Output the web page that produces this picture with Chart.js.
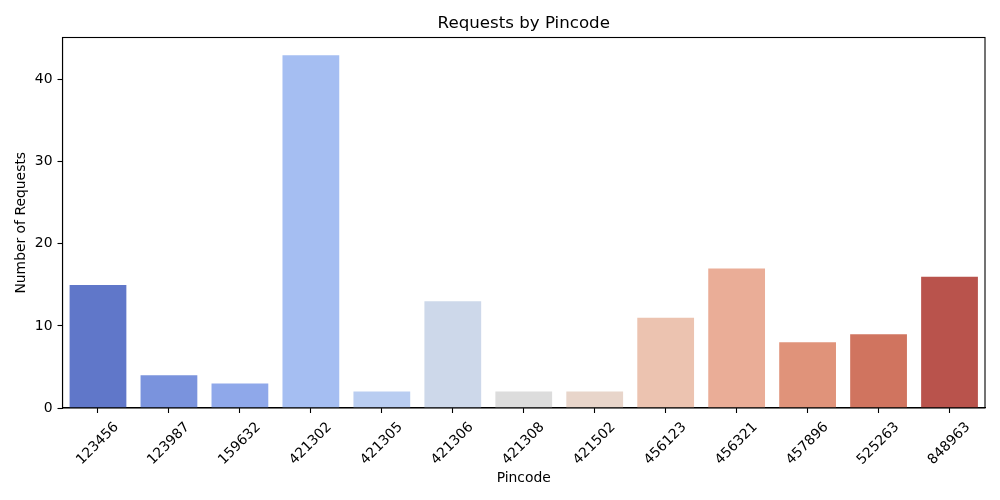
<!DOCTYPE html>
<html lang="en">
<head>
<meta charset="UTF-8">
<title>Requests by Pincode</title>
<script src="https://cdn.jsdelivr.net/npm/chart.js"></script>
<style>
    html, body { margin: 0; padding: 0; background: #fff; }
    #wrap { position: relative; width: 1000px; height: 500px; }
    canvas { display: block; }
</style>
</head>
<body>
<div id="wrap"><canvas id="chart" width="1000" height="500"></canvas></div>
<script>
const pincodes = ["123456", "123987", "159632", "421302", "421305", "421306", "421308", "421502", "456123", "456321", "457896", "525263", "848963"];
const requests = [15, 4, 3, 43, 2, 13, 2, 2, 11, 17, 8, 9, 16];
const barColors = ["#6077c9", "#7a93dd", "#8fa8ea", "#a5bef2", "#b9cdf1", "#cdd8ea", "#dcdcdc", "#e8d5ca", "#ecc3b0", "#eaad97", "#e0937a", "#d0745f", "#b9534c"];
const yTicks = [0, 10, 20, 30, 40];

const font = { family: "'DejaVu Sans', sans-serif", size: 13.9 };

// axes box on all four sides, title centred over the plot area
const frame = {
    id: "frame",
    afterLayout(chart) {
        chart.titleBlock.left = chart.chartArea.left;
        chart.titleBlock.right = chart.chartArea.right;
    },
    afterDatasetsDraw(chart) {
        const a = chart.chartArea, c = chart.ctx;
        c.save();
        c.strokeStyle = "#000";
        c.lineWidth = 1.1;
        c.strokeRect(a.left, a.top, a.right - a.left, a.bottom - a.top);
        c.restore();
    }
};

Chart.defaults.animation = false;
new Chart(document.getElementById("chart"), {
    type: "bar",
    data: {
        labels: pincodes,
        datasets: [{ data: requests, backgroundColor: barColors, categoryPercentage: 1, barPercentage: 0.8 }]
    },
    options: {
        responsive: false,
        layout: { padding: { left: 0, right: 15, top: 0, bottom: 0 } },
        plugins: {
            legend: { display: false },
            tooltip: { enabled: false },
            title: { display: true, text: "Requests by Pincode", color: "#000", font: { family: font.family, size: 16.67, weight: "normal" }, padding: { top: 13.5, bottom: 4 } }
        },
        scales: {
            x: {
                afterFit(axis) { axis.height = 92; },
                grid: { offset: false, drawOnChartArea: false, drawTicks: true, tickLength: 5, tickColor: "#000", tickWidth: 1.1 },
                border: { color: "#000", width: 1.1 },
                ticks: { color: "#000", font: font, maxRotation: 45, minRotation: 45, autoSkip: false, labelOffset: 18.5, padding: 6 },
                title: { display: true, text: "Pincode", color: "#000", font: font, padding: { top: 2, bottom: 13 } }
            },
            y: {
                min: 0,
                max: 45.15,
                afterFit(axis) { axis.width = 62.5; },
                grid: { drawOnChartArea: false, drawTicks: true, tickLength: 5, tickColor: "#000", tickWidth: 1.1 },
                border: { color: "#000", width: 1.1 },
                afterBuildTicks(axis) { axis.ticks = yTicks.map(v => ({ value: v })); },
                ticks: { color: "#000", font: font, padding: 5 },
                title: { display: true, text: "Number of Requests", color: "#000", font: font, padding: { top: 12.7, bottom: 0 } }
            }
        }
    },
    plugins: [frame]
});
</script>
</body>
</html>
